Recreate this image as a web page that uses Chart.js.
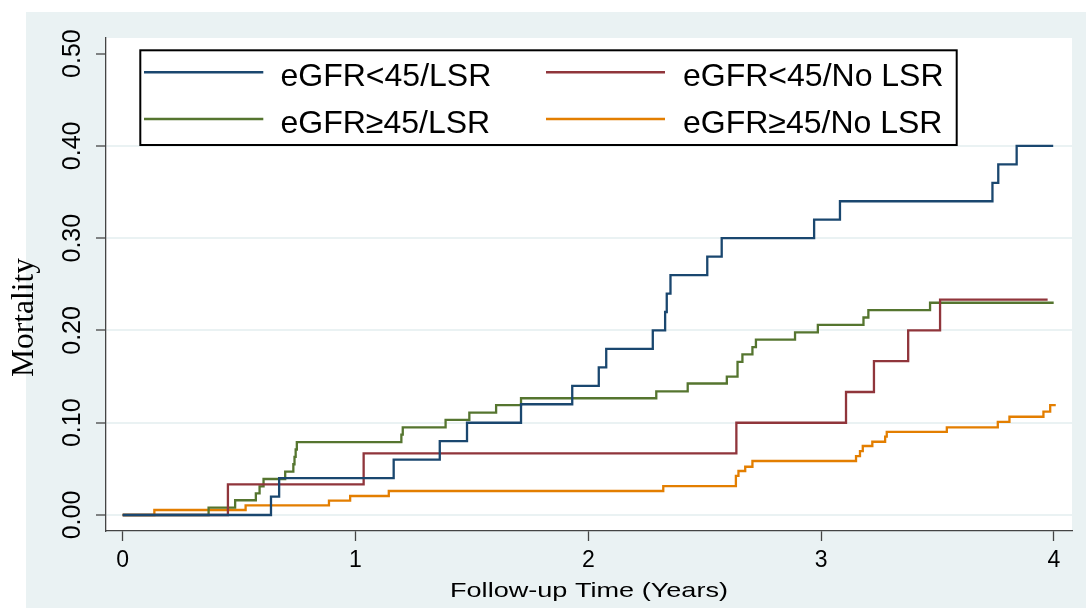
<!DOCTYPE html>
<html><head><meta charset="utf-8">
<script src="https://cdn.jsdelivr.net/npm/chart.js@4.4.1/dist/chart.umd.min.js"></script>
<style>html,body{margin:0;padding:0;background:#fff;}#c{display:block;}</style>
</head><body>
<canvas id="c" width="1086" height="612" style="width:1086px;height:612px"></canvas>
<script>
// ---- data ----
const seriesLabels = ['eGFR<45/LSR', 'eGFR<45/No LSR', 'eGFR\u226545/LSR', 'eGFR\u226545/No LSR'];
const xTickValues = [0, 1, 2, 3, 4];
const xTickLabels = ['0', '1', '2', '3', '4'];
const yTickValues = [0, 0.1, 0.2, 0.3, 0.4, 0.5];
const yTickLabels = ['0.00', '0.10', '0.20', '0.30', '0.40', '0.50'];
const xTitle = 'Follow-up Time (Years)';
const yTitle = 'Mortality';

const blueTimes  = [0, 0.637, 0.672, 1.164, 1.362, 1.479, 1.711, 1.931, 2.045, 2.077, 2.277, 2.330, 2.337, 2.353, 2.511, 2.573, 2.970, 3.081, 3.736, 3.761, 3.840, 3.997];
const blueValues = [0, 0.02, 0.04, 0.06, 0.08, 0.10, 0.12, 0.14, 0.16, 0.18, 0.20, 0.22, 0.24, 0.26, 0.28, 0.30, 0.32, 0.34, 0.36, 0.38, 0.40, 0.40];

const redTimes  = [0, 0.452, 1.035, 2.636, 3.107, 3.227, 3.374, 3.511, 3.973];
const redValues = [0, 0.0333, 0.0667, 0.100, 0.1333, 0.1667, 0.200, 0.2333, 0.2333];

const greenTimes  = [0, 0.369, 0.483, 0.572, 0.588, 0.605, 0.698, 0.733, 0.738, 0.743, 0.748, 1.197, 1.203, 1.387, 1.489, 1.604, 1.711, 2.292, 2.427, 2.595, 2.641, 2.662, 2.705, 2.720, 2.888, 2.986, 3.182, 3.203, 3.468, 3.999];
const greenValues = [0, 0.008, 0.016, 0.0235, 0.031, 0.039, 0.047, 0.055, 0.063, 0.071, 0.079, 0.087, 0.095, 0.103, 0.111, 0.119, 0.1265, 0.134, 0.1425, 0.150, 0.166, 0.174, 0.182, 0.190, 0.198, 0.206, 0.214, 0.222, 0.230, 0.230];

const orangeTimes  = [0, 0.136, 0.528, 0.886, 0.977, 1.143, 2.322, 2.634, 2.645, 2.674, 2.705, 3.150, 3.167, 3.179, 3.220, 3.275, 3.282, 3.540, 3.759, 3.809, 3.955, 3.984, 4.008];
const orangeValues = [0, 0.0054, 0.0105, 0.0155, 0.0206, 0.026, 0.0314, 0.0423, 0.0477, 0.0523, 0.0585, 0.0639, 0.0693, 0.0748, 0.0794, 0.085, 0.090, 0.095, 0.101, 0.1065, 0.112, 0.119, 0.119];

const seriesColors = ['#1a476f', '#90353b', '#55752f', '#e37e00'];
// ---- end data ----

const toPts = (t, v) => t.map((x, i) => ({x: x, y: v[i]}));
const seriesData = [toPts(blueTimes, blueValues), toPts(redTimes, redValues), toPts(greenTimes, greenValues), toPts(orangeTimes, orangeValues)];

const BG = '#eaf2f3';
const AXIS = '#444444';

const decor = {
  id: 'decor',
  beforeDraw(chart) {
    const ctx = chart.ctx, a = chart.chartArea;
    ctx.save();
    ctx.fillStyle = '#ffffff';
    ctx.fillRect(0, 0, chart.width, chart.height);
    ctx.fillStyle = BG;
    ctx.fillRect(26, 12, 1060, 596);
    ctx.fillStyle = '#ffffff';
    ctx.fillRect(a.left, a.top, a.right - a.left, a.bottom - a.top);
    ctx.restore();
  },
  afterDraw(chart) {
    const ctx = chart.ctx;
    ctx.save();
    // y axis title
    ctx.fillStyle = '#000';
    ctx.translate(33.3, 317.5);
    ctx.rotate(-Math.PI / 2);
    ctx.font = '31.5px "Liberation Serif"';
    ctx.textAlign = 'center';
    ctx.textBaseline = 'alphabetic';
    ctx.fillText(yTitle, 0, 0);
    ctx.restore();
    // x axis title
    ctx.save();
    ctx.fillStyle = '#000';
    ctx.translate(589, 596.5);
    ctx.scale(1.29, 1);
    ctx.font = '21px "Liberation Sans"';
    ctx.textAlign = 'center';
    ctx.textBaseline = 'alphabetic';
    ctx.fillText(xTitle, 0, 0);
    ctx.restore();
    // legend
    ctx.save();
    ctx.fillStyle = '#ffffff';
    ctx.fillRect(140.3, 50.3, 816.4, 94.7);
    ctx.strokeStyle = '#000';
    ctx.lineWidth = 2;
    ctx.strokeRect(140.3, 50.3, 816.4, 94.7);
    const cols = [{lx1: 144, lx2: 263.3, tx: 280.5}, {lx1: 546, lx2: 665, tx: 683}];
    const rows = [{ly: 72.3, ty: 86}, {ly: 119, ty: 132.7}];
    const order = [[0, 0, 0], [1, 1, 0], [2, 0, 1], [3, 1, 1]];
    ctx.font = '32px "Liberation Sans"';
    ctx.textAlign = 'left';
    ctx.textBaseline = 'alphabetic';
    order.forEach(([si, c, r]) => {
      const col = cols[c], row = rows[r];
      ctx.strokeStyle = seriesColors[si];
      ctx.lineWidth = 2.5;
      ctx.beginPath();
      ctx.moveTo(col.lx1, row.ly);
      ctx.lineTo(col.lx2, row.ly);
      ctx.stroke();
      ctx.fillStyle = '#000';
      ctx.fillText(chart.data.datasets[si].label, col.tx, row.ty);
    });
    ctx.restore();
  }
};

new Chart(document.getElementById('c'), {
  type: 'line',
  data: {
    datasets: seriesLabels.map((lab, i) => ({
      label: lab,
      data: seriesData[i],
      borderColor: seriesColors[i],
      backgroundColor: seriesColors[i],
      borderWidth: 2.3,
      pointRadius: 0,
      stepped: 'before',
      fill: false,
      tension: 0
    }))
  },
  options: {
    responsive: false,
    animation: false,
    devicePixelRatio: 1,
    parsing: true,
    layout: {padding: {top: 38, right: 14, left: 0, bottom: 0}},
    plugins: {legend: {display: false}, tooltip: {enabled: false}, title: {display: false}},
    scales: {
      x: {
        type: 'linear',
        min: -0.0717,
        max: 4.0777,
        afterBuildTicks: s => { s.ticks = xTickValues.map(v => ({value: v})); },
        afterFit: s => { s.height = 81; },
        ticks: {
          callback: (v, i) => xTickLabels[i],
          font: {family: '"Liberation Sans"', size: 23},
          color: '#000',
          padding: 5.5,
          maxRotation: 0,
          autoSkip: false
        },
        grid: {drawOnChartArea: false, drawTicks: true, tickLength: 10, tickColor: AXIS, tickWidth: 1.3},
        border: {display: true, color: AXIS, width: 1.3}
      },
      y: {
        type: 'linear',
        min: -0.01733,
        max: 0.5169,
        afterBuildTicks: s => { s.ticks = yTickValues.map(v => ({value: v})); },
        afterFit: s => { s.width = 106; },
        ticks: {
          callback: (v, i) => yTickLabels[i],
          font: {family: '"Liberation Sans"', size: 25},
          color: '#000',
          minRotation: 90,
          maxRotation: 90,
          crossAlign: 'center',
          padding: -1,
          autoSkip: false
        },
        grid: {
          color: c => (c.tick && c.tick.value === 0.5) ? 'rgba(0,0,0,0)' : BG,
          lineWidth: 2,
          drawTicks: true,
          tickLength: 10,
          tickColor: AXIS,
          tickWidth: 1.3
        },
        border: {display: true, color: AXIS, width: 1.3}
      }
    }
  },
  plugins: [decor]
});
</script>
</body></html>
